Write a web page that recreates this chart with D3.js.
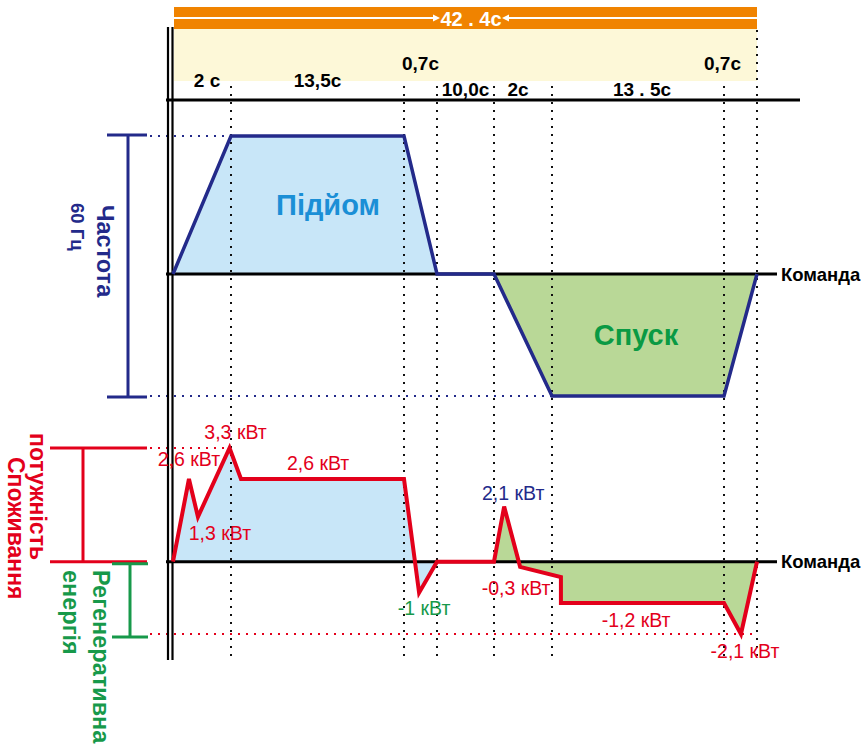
<!DOCTYPE html>
<meta charset="utf-8">
<script src="https://d3js.org/d3.v7.min.js"></script>
<style>
  body { margin: 0; background: #fff; }
  svg { font-family: "Liberation Sans", Arial, sans-serif; }
</style>
<div id="chart"></div>
<script>
// phase boundaries (s) and the duration labels between them
var phaseT = [0, 2, 15.5, 16.2, 26.2, 28.2, 41.7, 42.4];
var phaseLabels = ["2 c", "13,5c", "0,7c", "10,0c", "2c", "13 . 5c", "0,7c"];
var totalLabel = "42 . 4c";

// frequency, Hz
var freqT  = [0, 2, 15.5, 16.2, 26.2, 28.2, 41.7, 42.4];
var freqHz = [0, 60, 60, 0, 0, -60, -60, 0];

// power, kW
var powerT  = [0, 0.55, 0.86, 1.95, 2.78, 15.5, 15.82, 16.2, 26.2, 26.55, 27.1, 28.9, 28.9, 41.7, 42.06, 42.4];
var powerKw = [0, 2.4, 1.3, 3.3, 2.4, 2.4, -0.9, 0, 0, 1.6, -0.15, -0.45, -1.2, -1.2, -2.1, 0];

// power notes, anchored on a point of the curve
var noteText = ["3,3 кВт", "2,6 кВт", "1,3 кВт", "2,6 кВт", "-1 кВт", "2,1 кВт", "-0,3 кВт", "-1,2 кВт", "-2,1 кВт"];
var noteT    = [1.95, 0.55, 0.86, 8.8, 15.82, 26.55, 27.1, 34.8, 42.06];
var noteKw   = [3.3, 2.4, 1.3, 2.4, -0.9, 1.6, -0.15, -1.2, -2.1];

var W = 866, H = 746;
var navy = "#232a8a", red = "#e3001b", green = "#17994a";
var blueFill = "#c8e6f8", greenFill = "#b9d897";

var svg = d3.select("#chart").append("svg")
    .attr("width", W).attr("height", H);

// schematic time axis: each phase gets its own width
var x = d3.scaleLinear().domain(phaseT).range([173, 231, 404, 437, 494, 552, 724, 757]);
var yF = d3.scaleLinear().domain([-60, 0, 60]).range([396, 274, 136]);
var yP = d3.scaleLinear().domain([-2.1, 3.3]).range([634, 448]);

var x0 = x(phaseT[0]), x1 = x(phaseT[phaseT.length - 1]);

// header bands
svg.append("rect").attr("x", x0 + 1).attr("y", 29).attr("width", x1 - x0 - 1).attr("height", 52).attr("fill", "#fdf8d8");
svg.append("rect").attr("x", x0 + 1).attr("y", 7).attr("width", x1 - x0 - 1).attr("height", 22).attr("fill", "#f08300");
var mid = (x0 + x1) / 2 + 6;
svg.append("line").attr("x1", x0 + 1).attr("x2", mid - 36).attr("y1", 18).attr("y2", 18).attr("stroke", "#fff").attr("stroke-width", 2);
svg.append("line").attr("x1", mid + 36).attr("x2", x1).attr("y1", 18).attr("y2", 18).attr("stroke", "#fff").attr("stroke-width", 2);
svg.append("path").attr("d", "M" + (mid - 31) + ",18l-7,-3.5v7z").attr("fill", "#fff");
svg.append("path").attr("d", "M" + (mid + 31) + ",18l7,-3.5v7z").attr("fill", "#fff");
svg.append("text").attr("x", mid).attr("y", 19).text(totalLabel)
    .attr("text-anchor", "middle").attr("dominant-baseline", "central")
    .style("font-size", "20px").style("font-weight", "bold").attr("fill", "#fff");

// areas under frequency
var areaF = d3.area().x(function(d) { return x(d[0]); }).y0(yF(0)).y1(function(d) { return yF(d[1]); });
var fPts = freqT.map(function(t, i) { return [t, freqHz[i]]; });
svg.append("path").datum(fPts.filter(function(d) { return d[0] <= 16.2; })).attr("d", areaF).attr("fill", blueFill);
svg.append("path").datum(fPts.filter(function(d) { return d[0] >= 26.2; })).attr("d", areaF).attr("fill", greenFill);

// areas under power
var areaP = d3.area().x(function(d) { return x(d[0]); }).y0(yP(0)).y1(function(d) { return yP(d[1]); });
var pPts = powerT.map(function(t, i) { return [t, powerKw[i]]; });
svg.append("path").datum(pPts.filter(function(d) { return d[0] <= 16.2; })).attr("d", areaP).attr("fill", blueFill);
svg.append("path").datum(pPts.filter(function(d) { return d[0] >= 26.2; })).attr("d", areaP).attr("fill", greenFill);

// dotted phase lines
svg.selectAll(".phase").data(phaseT.slice(1)).enter().append("line")
    .attr("x1", function(d) { return x(d); }).attr("x2", function(d) { return x(d); })
    .attr("y1", function(d, i) { return i == phaseT.length - 2 ? 30 : 86; }).attr("y2", 660)
    .attr("stroke", "#111").attr("stroke-width", 2).attr("stroke-dasharray", "2 6");

// dotted level guides
function guide(xa, xb, y, c) {
  svg.append("line").attr("x1", xa).attr("x2", xb).attr("y1", y).attr("y2", y)
    .attr("stroke", c).attr("stroke-width", 2).attr("stroke-dasharray", "2 6");
}
guide(150, x(2), yF(60), navy);
guide(150, x(28.2), yF(-60), navy);
guide(150, x(2), yP(3.3), red);
guide(150, x(42.4), yP(-2.1), red);

// black frame lines
svg.append("line").attr("x1", 166).attr("x2", 800).attr("y1", 100).attr("y2", 100).attr("stroke", "#000").attr("stroke-width", 3);
svg.append("line").attr("x1", 166).attr("x2", 777).attr("y1", yF(0)).attr("y2", yF(0)).attr("stroke", "#000").attr("stroke-width", 3);
svg.append("line").attr("x1", 166).attr("x2", 777).attr("y1", yP(0)).attr("y2", yP(0)).attr("stroke", "#000").attr("stroke-width", 3);
[168, 172.5].forEach(function(v) {
  svg.append("line").attr("x1", v).attr("x2", v).attr("y1", 27).attr("y2", 660).attr("stroke", "#000").attr("stroke-width", 2.2);
});

// curves
var lineF = d3.line().x(function(d) { return x(d[0]); }).y(function(d) { return yF(d[1]); });
svg.append("path").datum(fPts).attr("d", lineF).attr("fill", "none").attr("stroke", navy).attr("stroke-width", 3.5);
var lineP = d3.line().x(function(d) { return x(d[0]); }).y(function(d) { return yP(d[1]); });
svg.append("path").datum(pPts).attr("d", lineP).attr("fill", "none").attr("stroke", red).attr("stroke-width", 4);

// phase duration labels
var rowY = [87, 87, 70, 96, 96, 96, 70];
var rowDx = [5, 0, 0, 0, -5, 4, -18];
svg.selectAll(".dur").data(phaseLabels).enter().append("text")
    .attr("x", function(d, i) { return (x(phaseT[i]) + x(phaseT[i + 1])) / 2 + rowDx[i]; })
    .attr("y", function(d, i) { return rowY[i]; })
    .attr("text-anchor", "middle").style("font-size", "19px").style("font-weight", "bold")
    .text(function(d) { return d; });

// area titles
svg.append("text").attr("x", 328).attr("y", yF(30)).text("Підйом").attr("text-anchor", "middle").attr("dominant-baseline", "central")
    .style("font-size", "29px").style("font-weight", "bold").attr("fill", "#1b8fd6");
svg.append("text").attr("x", 636).attr("y", yF(-30) + 0).text("Спуск").attr("text-anchor", "middle").attr("dominant-baseline", "central")
    .style("font-size", "29px").style("font-weight", "bold").attr("fill", "#0a9a44");

// command labels
[yF(0), yP(0)].forEach(function(v) {
  svg.append("text").attr("x", 781).attr("y", v).text("Команда").attr("dominant-baseline", "central")
    .style("font-size", "18.5px").style("font-weight", "bold");
});

// power notes
var noteOff = [[6, -16], [0, -20], [22, 16], [0, -16], [5, 15], [9, -14], [-4, 21], [0, 17], [4, 17]];
var noteCol = [red, red, red, red, green, navy, red, red, red];
svg.selectAll(".note").data(noteText).enter().append("text")
    .attr("x", function(d, i) { return x(noteT[i]) + noteOff[i][0]; })
    .attr("y", function(d, i) { return yP(noteKw[i]) + noteOff[i][1]; })
    .attr("text-anchor", "middle").attr("dominant-baseline", "central")
    .style("font-size", "19.5px").attr("fill", function(d, i) { return noteCol[i]; })
    .text(function(d) { return d; });

// side brackets
function bracket(xa, xb, xv, ya, yb, c) {
  var g = svg.append("g").attr("stroke", c).attr("stroke-width", 3);
  g.append("line").attr("x1", xa).attr("x2", xb).attr("y1", ya).attr("y2", ya);
  g.append("line").attr("x1", xa).attr("x2", xb).attr("y1", yb).attr("y2", yb);
  g.append("line").attr("x1", xv).attr("x2", xv).attr("y1", ya).attr("y2", yb);
}
bracket(107, 147, 128, yF(60) - 1, yF(-60) + 1, navy);
bracket(50, 147, 83, yP(3.3), yP(0), red);
bracket(112, 148, 130, yP(0) + 2, yP(-2.1) + 3, green);

// rotated side titles
function vtext(s, xc, ys, size, c) {
  svg.append("text").attr("transform", "translate(" + xc + "," + ys + ") rotate(90)")
    .attr("dominant-baseline", "central").style("font-size", size + "px").style("font-weight", "bold")
    .attr("fill", c).text(s);
}
vtext("Частота", 105, 205, 23.5, navy);
vtext("60 Гц", 77, 203, 18.5, navy);
vtext("потужність", 38, 433, 23, red);
vtext("Споживання", 16, 457, 23, red);
vtext("Регенеративна", 101, 570, 23.5, green);
vtext("енергія", 71, 570, 23.5, green);
</script>
